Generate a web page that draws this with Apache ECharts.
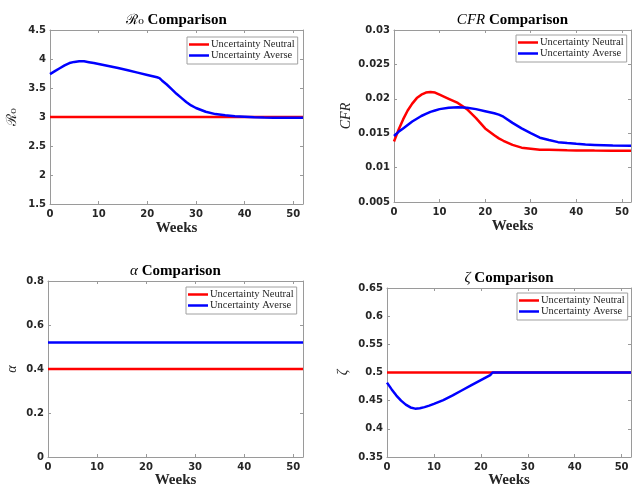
<!DOCTYPE html>
<html>
<head>
<meta charset="utf-8">
<script src="https://cdn.jsdelivr.net/npm/echarts@6/dist/echarts.min.js"></script>
<style>
  html, body { margin: 0; padding: 0; background: #fff; }
  #main { width: 632px; height: 485px; }
</style>
</head>
<body>
<div id="main"></div>
<script>
// ---- data ----
const weekTicks = [0, 10, 20, 30, 40, 50];
const flatWeeks = [0, 52];

// R0
const r0Weeks = [0, 1, 2, 3, 4, 5, 6, 7, 8, 9, 10, 12, 14, 16, 18, 20, 22, 22.5, 23, 24, 25, 26, 27, 28, 29, 30, 32, 34, 36, 38, 40, 42, 44, 46, 48, 50, 52];
const r0Averse = [3.74, 3.79, 3.84, 3.89, 3.93, 3.95, 3.96, 3.96, 3.945, 3.93, 3.915, 3.88, 3.845, 3.805, 3.765, 3.725, 3.685, 3.67, 3.63, 3.56, 3.48, 3.40, 3.33, 3.26, 3.20, 3.155, 3.09, 3.05, 3.03, 3.015, 3.005, 2.995, 2.99, 2.988, 2.985, 2.985, 2.985];
const r0Neutral = [3, 3];

// CFR
const cfrWeeks = [0, 1, 2, 3, 4, 5, 6, 7, 8, 9, 10, 12, 14, 16, 18, 20, 22, 23, 24, 26, 28, 30, 32, 34, 36, 38, 40, 42, 44, 48, 52];
const cfrNeutral = [0.0138, 0.0155, 0.0170, 0.0183, 0.0193, 0.0201, 0.0206, 0.0209, 0.0210, 0.0209, 0.0206, 0.0200, 0.0194, 0.0185, 0.0172, 0.0157, 0.0147, 0.01425, 0.0139, 0.0133, 0.0129, 0.01275, 0.0126, 0.01258, 0.01255, 0.01252, 0.0125, 0.01248, 0.01247, 0.01246, 0.01246];
const cfrAverse = [0.0146, 0.0152, 0.0157, 0.0162, 0.0167, 0.0171, 0.0175, 0.0178, 0.0181, 0.0183, 0.0185, 0.0187, 0.01876, 0.0187, 0.0185, 0.0182, 0.0179, 0.0177, 0.0174, 0.0165, 0.0157, 0.0150, 0.01435, 0.0140, 0.0137, 0.01356, 0.01345, 0.01335, 0.0133, 0.0132, 0.01318];

// alpha
const alphaNeutral = [0.4, 0.4];
const alphaAverse = [0.52, 0.52];

// zeta
const zetaWeeks = [0, 1, 2, 3, 4, 5, 6, 7, 8, 9, 10, 12, 14, 16, 18, 20, 22, 22.5, 30, 40, 52];
const zetaAverse = [0.482, 0.470, 0.459, 0.450, 0.443, 0.438, 0.4358, 0.4365, 0.4385, 0.4412, 0.4443, 0.451, 0.4595, 0.4685, 0.4775, 0.4865, 0.4955, 0.5, 0.5, 0.5, 0.5];
const zetaNeutral = [0.5, 0.5];

const names = ['Uncertainty Neutral', 'Uncertainty Averse'];

function pairs(xs, ys) {
  return xs.map((x, i) => [x, ys[i]]);
}

// ---- layout ----
const grids = [
  { left: 50, top: 30, width: 253, height: 174, outerBoundsMode: 'none' },
  { left: 394, top: 30, width: 237, height: 172, outerBoundsMode: 'none' },
  { left: 48, top: 281, width: 255, height: 176, outerBoundsMode: 'none' },
  { left: 387, top: 288, width: 244, height: 169, outerBoundsMode: 'none' }
];
const yRanges = [
  { min: 1.5, max: 4.5, interval: 0.5 },
  { min: 0.005, max: 0.03, interval: 0.005 },
  { min: 0, max: 0.8, interval: 0.2 },
  { min: 0.35, max: 0.65, interval: 0.05 }
];
const yNames = ['ℛ₀', 'CFR', 'α', 'ζ'];
const yNameGaps = [31, 41, 29, 37];
const xNameGaps = [17, 17, 16, 16];
const titleTexts = ['{m|ℛ₀} Comparison', '{i|CFR} Comparison', '{i|α} Comparison', '{i|ζ} Comparison'];
const titleY = [20, 20, 271, 278];
const legendPos = [[187, 37], [516, 35], [186, 287], [517, 293]];

const axisColor = '#9a9a9a';
const textColor = '#262626';
const serif = '"Liberation Serif", "DejaVu Serif", serif';

const xAxis = [], yAxis = [], title = [], legend = [], series = [];

grids.forEach((g, i) => {
  const cx = g.left + g.width / 2;
  title.push({
    text: titleTexts[i],
    left: cx, top: titleY[i] - 9, textAlign: 'center', padding: 0,
    textStyle: {
      fontFamily: serif, fontWeight: 'bold', fontSize: 15, lineHeight: 18, color: '#000',
      rich: {
        m: { fontFamily: '"DejaVu Serif", serif', fontWeight: 'normal', fontSize: 14, color: '#000' },
        i: { fontFamily: serif, fontStyle: 'italic', fontWeight: 'normal', fontSize: 15, color: '#000' }
      }
    }
  });
  xAxis.push({
    type: 'value', gridIndex: i, min: 0, max: 52, interval: 10,
    name: 'Weeks', nameLocation: 'middle', nameGap: xNameGaps[i],
    nameTextStyle: { fontFamily: serif, fontWeight: 'bold', fontSize: 15, color: textColor },
    axisLine: { show: true, onZero: false, lineStyle: { color: axisColor, width: 1 } },
    axisTick: { show: true, inside: true, length: 3, lineStyle: { color: axisColor } },
    axisLabel: { margin: 5, fontFamily: '"DejaVu Sans", sans-serif', fontWeight: 'bold', fontSize: 10, color: textColor },
    splitLine: { show: false }
  });
  yAxis.push({
    type: 'value', gridIndex: i, min: yRanges[i].min, max: yRanges[i].max, interval: yRanges[i].interval,
    name: yNames[i], nameLocation: 'middle', nameGap: yNameGaps[i],
    nameTextStyle: {
      fontFamily: i === 0 ? '"DejaVu Serif", serif' : serif,
      fontStyle: i === 0 ? 'normal' : 'italic',
      fontSize: 14, color: textColor
    },
    axisLine: { show: true, onZero: false, lineStyle: { color: axisColor, width: 1 } },
    axisTick: { show: true, inside: true, length: 3, lineStyle: { color: axisColor } },
    axisLabel: { margin: 4, fontFamily: '"DejaVu Sans", sans-serif', fontWeight: 'bold', fontSize: 10, color: textColor },
    splitLine: { show: false }
  });
  legend.push({
    left: legendPos[i][0], top: legendPos[i][1], orient: 'vertical',
    data: names, icon: 'rect', itemWidth: 20, itemHeight: 2.5, itemGap: 0,
    padding: [2, 3, 3, 2], borderColor: '#a0a0a0', borderWidth: 1, backgroundColor: '#fff',
    selectedMode: false,
    textStyle: { fontFamily: serif, fontSize: 10.5, lineHeight: 11, color: textColor, padding: [0, 0, 0, -3] }
  });
});

// mirror axes for the box on top / right
grids.forEach((g, i) => {
  xAxis.push({
    type: 'value', gridIndex: i, min: 0, max: 52, interval: 10, position: 'top',
    axisLine: { show: true, onZero: false, lineStyle: { color: axisColor, width: 1 } },
    axisTick: { show: true, inside: true, length: 3, lineStyle: { color: axisColor } },
    axisLabel: { show: false }, splitLine: { show: false }
  });
  yAxis.push({
    type: 'value', gridIndex: i, min: yRanges[i].min, max: yRanges[i].max, interval: yRanges[i].interval, position: 'right',
    axisLine: { show: true, onZero: false, lineStyle: { color: axisColor, width: 1 } },
    axisTick: { show: true, inside: true, length: 3, lineStyle: { color: axisColor } },
    axisLabel: { show: false }, splitLine: { show: false }
  });
});

function line(name, color, idx, data) {
  return {
    name: name, type: 'line', xAxisIndex: idx, yAxisIndex: idx,
    data: data, showSymbol: false, symbol: 'none', smooth: false,
    lineStyle: { color: color, width: 2.5 }, itemStyle: { color: color },
    clip: true
  };
}

series.push(line(names[0], '#ff0000', 0, pairs(flatWeeks, r0Neutral)));
series.push(line(names[1], '#0000ff', 0, pairs(r0Weeks, r0Averse)));
series.push(line(names[0], '#ff0000', 1, pairs(cfrWeeks, cfrNeutral)));
series.push(line(names[1], '#0000ff', 1, pairs(cfrWeeks, cfrAverse)));
series.push(line(names[0], '#ff0000', 2, pairs(flatWeeks, alphaNeutral)));
series.push(line(names[1], '#0000ff', 2, pairs(flatWeeks, alphaAverse)));
series.push(line(names[0], '#ff0000', 3, pairs(flatWeeks, zetaNeutral)));
series.push(line(names[1], '#0000ff', 3, pairs(zetaWeeks, zetaAverse)));

const chart = echarts.init(document.getElementById('main'), null, { renderer: 'canvas' });
chart.setOption({
  animation: false,
  backgroundColor: '#fff',
  title: title,
  grid: grids,
  xAxis: xAxis,
  yAxis: yAxis,
  legend: legend,
  series: series
});
</script>
</body>
</html>
